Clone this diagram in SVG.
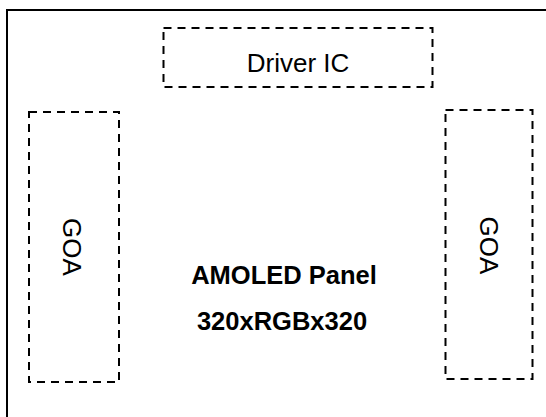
<svg xmlns="http://www.w3.org/2000/svg" width="546" height="417" viewBox="0 0 546 417">
<style>
.box{fill:none;stroke:#000;stroke-width:2;stroke-dasharray:8,6}
.lbl{font-family:"Liberation Sans",Arial,sans-serif;font-size:26px;fill:#000;text-anchor:middle}
.bold{font-weight:bold;font-size:25.5px}
</style>
<rect width="546" height="417" fill="#fff"/>
<g id="panel">
<rect x="7" y="10" width="560" height="430" fill="none" stroke="#000" stroke-width="2"/>
<text class="lbl bold" x="284" y="284">AMOLED Panel</text>
<text class="lbl bold" x="282" y="330">320xRGBx320</text>
</g>
<g id="driver-ic">
<rect class="box" x="163.5" y="28" width="269" height="59"/>
<text class="lbl" x="298" y="71.5">Driver IC</text>
</g>
<g id="goa-left">
<rect class="box" x="29" y="112" width="90" height="270"/>
<text class="lbl" transform="translate(72,247) rotate(90)" x="0" y="9.3">GOA</text>
</g>
<g id="goa-right">
<rect class="box" x="445.5" y="110" width="87" height="269"/>
<text class="lbl" transform="translate(489,245.5) rotate(90)" x="0" y="9.3">GOA</text>
</g>
<g id="connectors"/>
</svg>
